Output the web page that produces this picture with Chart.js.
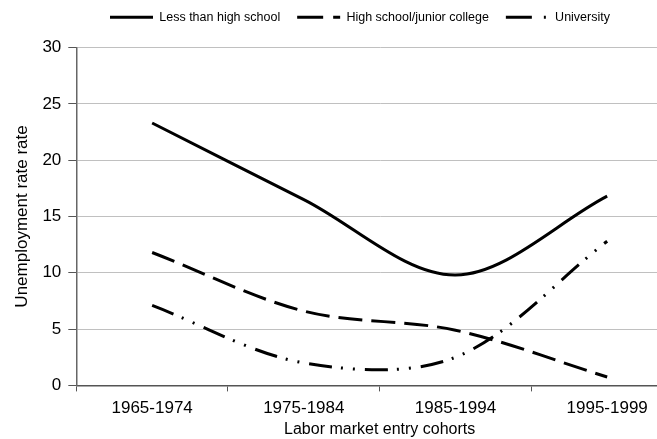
<!DOCTYPE html>
<html>
<head>
<meta charset="utf-8">
<script src="https://cdn.jsdelivr.net/npm/chart.js@4/dist/chart.umd.min.js"></script>
<style>
  html, body { margin: 0; padding: 0; background: #fff; overflow: hidden; }
  #wrap { position: absolute; left: 0; top: 0; width: 700px; height: 439px; }
</style>
</head>
<body>
<div id="wrap"><canvas id="cohortChart"></canvas></div>
<script>
// data
const cohorts = ['1965-1974', '1975-1984', '1985-1994', '1995-1999'];
const lessThanHighSchool = [23.3, 16.5, 9.8, 16.8];
const highSchoolJunior = [11.8, 6.6, 4.9, 0.75];
const university = [7.1, 2.0, 2.5, 12.8];
const yTicks = [0, 5, 10, 15, 20, 25, 30];

const arial = 'Arial, "Liberation Sans", sans-serif';
const tickFont = { family: arial, size: 17 };

// dash patterns used only for the little legend samples
const legendDash = [[], [26, 10], [26, 12, 2, 20]];

// move the legend up and left like in the original
const legendShift = {
  id: 'legendShift',
  afterLayout(chart) {
    chart.legend.left = 93;
    chart.legend.top = -6;
  }
};

const ctx = document.getElementById('cohortChart');
new Chart(ctx, {
  type: 'line',
  data: {
    labels: cohorts,
    datasets: [
      {
        label: 'Less than high school',
        data: lessThanHighSchool,
        borderColor: '#000',
        borderWidth: 3,
        pointRadius: 0,
        tension: 0.33
      },
      {
        label: 'High school/junior college',
        data: highSchoolJunior,
        borderColor: '#000',
        borderWidth: 3,
        borderDash: [24, 9],
        pointRadius: 0,
        tension: 0.33
      },
      {
        label: 'University',
        data: university,
        borderColor: '#000',
        borderWidth: 3,
        borderDash: [23, 9, 2, 10, 2, 10],
        pointRadius: 0,
        tension: 0.33
      }
    ]
  },
  options: {
    responsive: true,
    maintainAspectRatio: false,
    animation: false,
    layout: { padding: { left: 8, right: 17, top: 8, bottom: 0 } },
    plugins: {
      tooltip: { enabled: false },
      legend: {
        position: 'top',
        align: 'start',
        labels: {
          usePointStyle: true,
          pointStyle: 'line',
          pointStyleWidth: 43,
          boxHeight: 13,
          padding: 17,
          color: '#000',
          font: { family: arial, size: 12.5 },
          generateLabels(chart) {
            const items = Chart.defaults.plugins.legend.labels.generateLabels(chart);
            items.forEach((item, i) => {
              item.lineDash = legendDash[i];
              item.lineWidth = 3;
              item.strokeStyle = '#000';
            });
            return items;
          }
        }
      }
    },
    scales: {
      x: {
        offset: true,
        grid: {
          offset: true,
          drawOnChartArea: false,
          tickLength: 6,
          tickColor: '#555'
        },
        border: { color: '#555', width: 1.5 },
        ticks: { color: '#000', font: tickFont, padding: 7, maxRotation: 0 },
        title: {
          display: true,
          text: 'Labor market entry cohorts',
          color: '#000',
          font: { family: arial, size: 16 },
          padding: { top: -6, bottom: 0 }
        }
      },
      y: {
        min: 0,
        max: 30,
        afterBuildTicks(axis) {
          axis.ticks = yTicks.map(v => ({ value: v }));
        },
        grid: {
          color: '#c0c0c0',
          tickLength: 8,
          tickColor: '#555'
        },
        border: { color: '#666', width: 1.5 },
        ticks: { color: '#000', font: tickFont, padding: 7 },
        title: {
          display: true,
          text: 'Unemployment rate rate',
          color: '#000',
          font: { family: arial, size: 17 },
          padding: { top: 4, bottom: 3 }
        }
      }
    }
  },
  plugins: [legendShift]
});
</script>
</body>
</html>
